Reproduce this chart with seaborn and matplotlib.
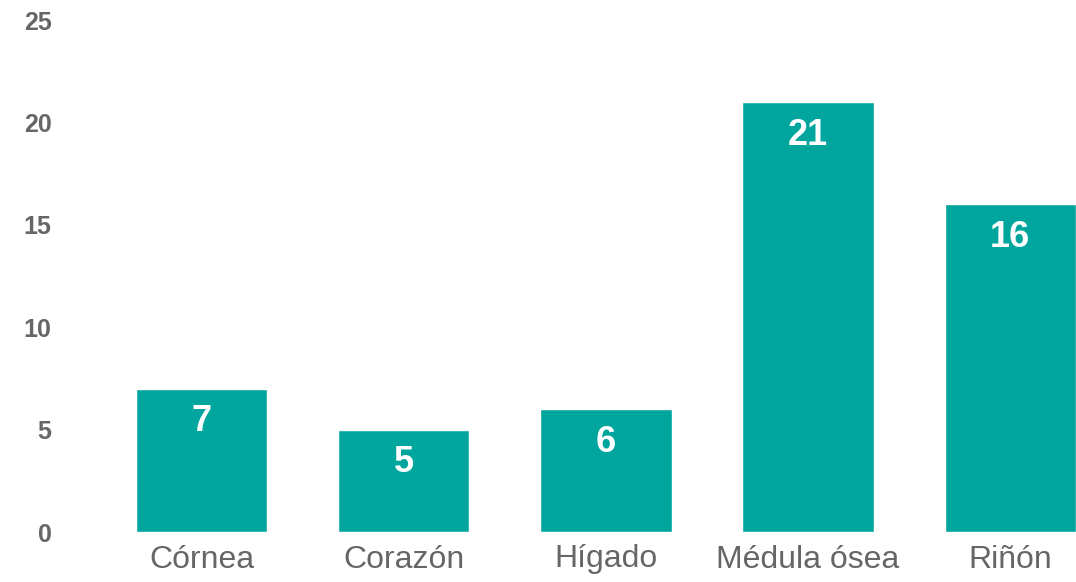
import matplotlib
matplotlib.use("Agg")
import matplotlib.pyplot as plt
import seaborn as sns
import pandas as pd

# chart data
organs = ["Córnea", "Corazón", "Hígado", "Médula ósea", "Riñón"]
counts = [7, 5, 6, 21, 16]
y_ticks = [0, 5, 10, 15, 20, 25]

teal = "#00A69D"
grey = "#666666"

sns.set_theme(style="white")
plt.rcParams["font.family"] = ["Liberation Sans", "DejaVu Sans"]

df = pd.DataFrame({"organ": organs, "count": counts})

fig = plt.figure(figsize=(10.76, 5.82), dpi=100)
ax = fig.add_axes([60 / 1076, 50 / 582, 1016 / 1076, 512 / 582])

sns.barplot(data=df, x="organ", y="count", color=teal, width=0.65,
            saturation=1, ax=ax)

# value labels inside the top of each bar
for patch, val in zip(ax.patches, counts):
    x = patch.get_x() + patch.get_width() / 2
    ax.annotate(str(val), (x, patch.get_height()), xytext=(0, -24),
                textcoords="offset points", ha="center", va="center",
                color="white", fontsize=26, fontweight="bold")

ax.set_xlim(-0.70, 4.325)
ax.set_ylim(0, 25)
ax.set_yticks(y_ticks)
ax.set_yticklabels([str(t) for t in y_ticks], fontsize=18,
                   fontweight="bold", color=grey)
ax.set_xticks(range(len(organs)))
ax.set_xticklabels(organs, fontsize=23, color=grey)
ax.tick_params(axis="y", length=0, pad=6)
ax.tick_params(axis="x", length=0, pad=9)
ax.set_xlabel("")
ax.set_ylabel("")
sns.despine(ax=ax, left=True, bottom=True)

fig.savefig("out.png", dpi=100)
